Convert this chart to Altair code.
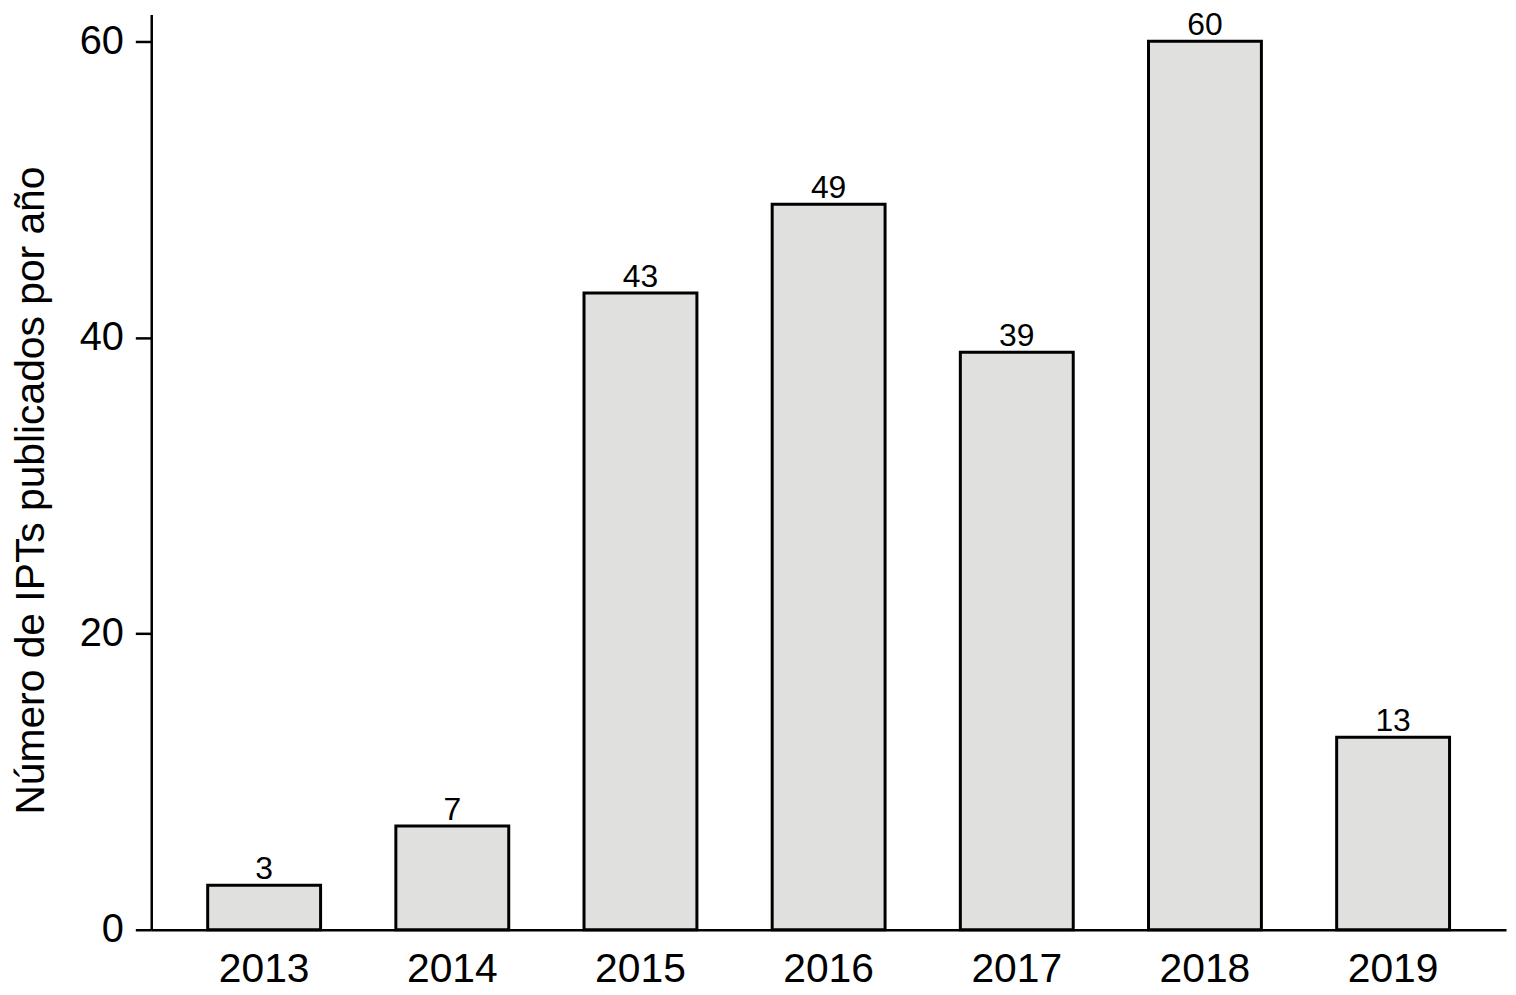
import altair as alt
import pandas as pd

years = ["2013", "2014", "2015", "2016", "2017", "2018", "2019"]
counts = [3, 7, 43, 49, 39, 60, 13]

df = pd.DataFrame({"year": years, "count": counts})

FONT = "Liberation Sans"

x = alt.X("year:N", sort=years, title=None,
          scale=alt.Scale(paddingInner=0.4, paddingOuter=0.3),
          axis=alt.Axis(labelAngle=0, ticks=False, labelFontSize=41, labelFont=FONT,
                        labelColor="black", labelPadding=20, domainColor="black",
                        domainWidth=2.5))
y = alt.Y("count:Q", title="Número de IPTs publicados por año",
          scale=alt.Scale(domain=[0, 61.8], nice=False),
          axis=alt.Axis(values=[0, 20, 40, 60], grid=False, labelFontSize=40, labelFont=FONT,
                        labelColor="black", tickSize=16, tickColor="black", tickWidth=2.5,
                        labelPadding=12, domainColor="black", domainWidth=2.5,
                        titleFontSize=41, titleFont=FONT, titleFontWeight="normal",
                        titleColor="black", titlePadding=27, titleY=478))

bars = alt.Chart(df).mark_bar(fill="#e0e0de", stroke="black", strokeWidth=3).encode(x=x, y=y)
text = alt.Chart(df).mark_text(baseline="alphabetic", dy=-6, fontSize=32, font=FONT, color="black").encode(
    x=alt.X("year:N", sort=years), y="count:Q", text="count:Q")

chart = (bars + text).properties(
    width=1362, height=920,
    autosize=alt.AutoSizeParams(type="none"),
    padding={"left": 144, "top": 4, "right": 2, "bottom": 70},
).configure_view(stroke=None)

chart.save("out.html", embed_options={"renderer": "svg", "actions": False})
